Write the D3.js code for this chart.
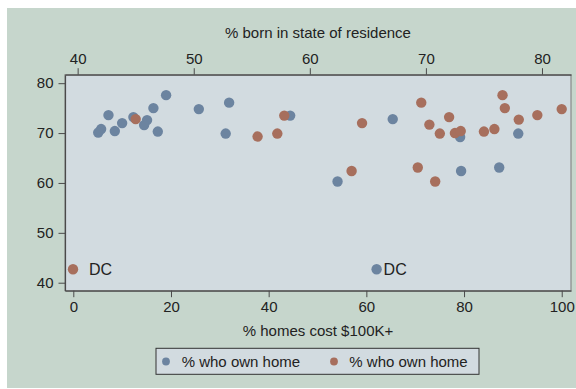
<!DOCTYPE html>
<html><head><meta charset="utf-8">
<script src="https://cdn.jsdelivr.net/npm/d3@7"></script>
<style>
body{margin:0;background:#fff}
text{font-family:"Liberation Sans",Arial,Helvetica,sans-serif;fill:#222}
</style>
</head><body>
<svg id="chart" width="576" height="389"></svg>
<script>
// Series 1 (blue): % homes cost $100K+ (bottom axis) vs % who own home
const propVal100 = [19.0,16.4,7.2,12.3,15.1,10.0,14.5,5.7,5.1,8.5,17.3,25.7,31.9,31.2,44.4,65.4,54.1,79.2,91.1,79.4,87.2,62.1];
const ownHomeBlue = [77.6,75.0,73.6,73.2,72.6,72.0,71.6,70.8,70.1,70.4,70.3,74.8,76.1,69.9,73.5,72.8,60.3,69.2,69.9,62.4,63.1,42.7];
const labelsBlue = ["","","","","","","","","","","","","","","","","","","","","","DC"];
// Series 2 (red): % born in state of residence (top axis) vs % who own home
const bornInState = [45.0,57.8,55.5,57.2,64.5,69.6,70.3,71.2,63.6,69.3,70.8,72.0,72.5,73.0,75.0,75.9,76.6,76.8,78.0,79.6,81.7,39.6];
const ownHomeRed = [72.8,73.5,69.3,69.9,72.0,76.1,71.7,69.9,62.4,63.1,60.3,73.2,70.0,70.4,70.3,70.8,77.6,75.0,72.7,73.6,74.8,42.7];
const labelsRed = ["","","","","","","","","","","","","","","","","","","","","","DC"];

const bottomTicks = [0,20,40,60,80,100];
const topTicks = [40,50,60,70,80];
const yTicks = [40,50,60,70,80];
const legendLabels = ["% who own home","% who own home"];
const topTitle = "% born in state of residence";
const bottomTitle = "% homes cost $100K+";

const C = {outer:"#c6d6cc", plot:"#d2dbe0", blue:"#6c84a0", red:"#a76f5d", axis:"#4a4a4a"};
const L = 65, R = 571, T = 74.7, B = 290.7;
const FS = 15;

const svg = d3.select("#chart");
svg.append("rect").attr("x",7).attr("y",8).attr("width",569).attr("height",380).attr("fill",C.outer);
svg.append("rect").attr("x",L).attr("y",T).attr("width",R-L).attr("height",B-T)
  .attr("fill",C.plot).attr("stroke","#7a7a7a").attr("stroke-width",1);

const x = d3.scaleLinear().domain([-1.7,101.9]).range([L,R]);
const xTop = d3.scaleLinear().domain([38.91,82.5]).range([L,R]);
const y = d3.scaleLinear().domain([38.4,81.7]).range([B,T]);

function styleAxis(g){
  g.selectAll("path.domain").attr("stroke",C.axis).attr("stroke-width",1.2);
  g.selectAll(".tick line").attr("stroke",C.axis).attr("stroke-width",1);
  g.selectAll(".tick text").attr("font-size",FS).attr("fill","#222")
    .attr("font-family",'"Liberation Sans",Arial,sans-serif');
}
const gB = svg.append("g").attr("transform",`translate(0,${B})`)
  .call(d3.axisBottom(x).tickValues(bottomTicks).tickSize(6.5).tickSizeOuter(0).tickPadding(4).tickFormat(d3.format("d")));
styleAxis(gB);
const gT = svg.append("g").attr("transform",`translate(0,${T})`)
  .call(d3.axisTop(xTop).tickValues(topTicks).tickSize(6.5).tickSizeOuter(0).tickPadding(4).tickFormat(d3.format("d")));
styleAxis(gT);
const gL = svg.append("g").attr("transform",`translate(${L},0)`)
  .call(d3.axisLeft(y).tickValues(yTicks).tickSize(6.5).tickSizeOuter(0).tickPadding(5).tickFormat(d3.format("d")));
styleAxis(gL);

svg.append("text").attr("x",(L+R)/2).attr("y",37.5).attr("text-anchor","middle").attr("font-size",FS).text(topTitle);
svg.append("text").attr("x",(L+R)/2).attr("y",336).attr("text-anchor","middle").attr("font-size",FS).text(bottomTitle);

const blue = propVal100.map((v,i)=>({x:v,y:ownHomeBlue[i],lab:labelsBlue[i]}));
const red = bornInState.map((v,i)=>({x:v,y:ownHomeRed[i],lab:labelsRed[i]}));
const pr = 5.2;
svg.append("g").selectAll("circle").data(blue).join("circle")
  .attr("cx",d=>x(d.x)).attr("cy",d=>y(d.y)).attr("r",pr).attr("fill",C.blue);
svg.append("g").selectAll("circle").data(red).join("circle")
  .attr("cx",d=>xTop(d.x)).attr("cy",d=>y(d.y)).attr("r",pr).attr("fill",C.red);
svg.append("g").selectAll("text").data(blue.filter(d=>d.lab)).join("text")
  .attr("x",d=>x(d.x)+7).attr("y",d=>y(d.y)+5.5).attr("font-size",16).text(d=>d.lab);
svg.append("g").selectAll("text").data(red.filter(d=>d.lab)).join("text")
  .attr("x",d=>xTop(d.x)+16).attr("y",d=>y(d.y)+5.5).attr("font-size",16).text(d=>d.lab);

// legend
const lg = svg.append("g");
lg.append("rect").attr("x",156).attr("y",348.3).attr("width",323).attr("height",26)
  .attr("fill",C.plot).attr("stroke","#333").attr("stroke-width",1);
const items = [{c:C.blue,t:legendLabels[0],mx:166,tx:181.7},{c:C.red,t:legendLabels[1],mx:334,tx:349.3}];
items.forEach(it=>{
  lg.append("circle").attr("cx",it.mx).attr("cy",361.5).attr("r",3.9).attr("fill",it.c);
  lg.append("text").attr("x",it.tx).attr("y",366.8).attr("font-size",FS).text(it.t);
});
</script>
</body></html>
